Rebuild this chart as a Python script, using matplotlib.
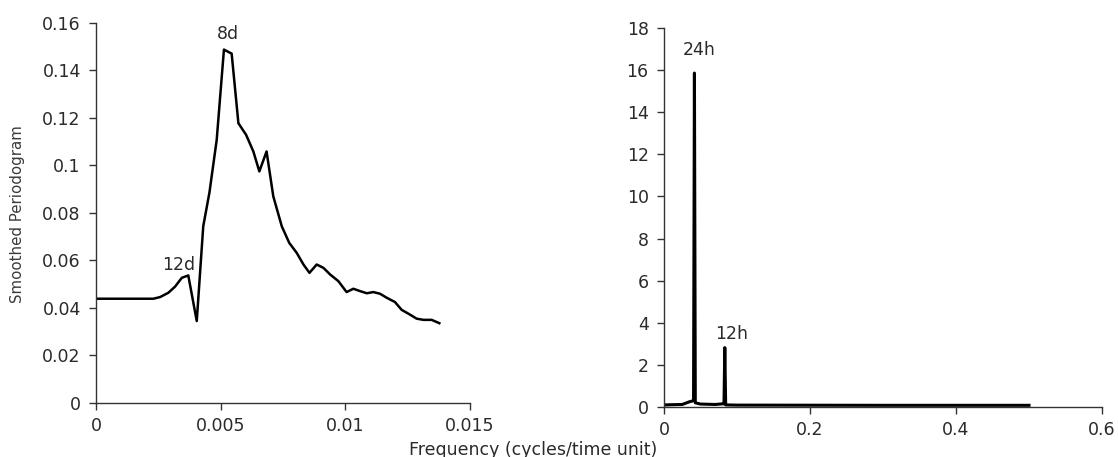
import matplotlib
matplotlib.use("Agg")
import matplotlib.pyplot as plt
from matplotlib.ticker import FuncFormatter

plt.rcParams['font.family'] = ['DejaVu Sans']

# Left panel: smoothed periodogram (low frequency)
left_freq = [0.0, 0.0023, 0.00257, 0.0029, 0.00317, 0.00344, 0.0037, 0.00404, 0.0043,
             0.00455, 0.00484, 0.00513, 0.00544, 0.00571, 0.00602, 0.00631, 0.00655,
             0.00684, 0.00711, 0.00745, 0.00775, 0.00805, 0.00832, 0.00856, 0.00885,
             0.00912, 0.00939, 0.00972, 0.01005, 0.01032, 0.01059, 0.01086, 0.01112,
             0.01139, 0.01166, 0.01199, 0.01226, 0.01253, 0.01286, 0.01313, 0.01346, 0.01377]
left_power = [0.0439, 0.0439, 0.0446, 0.0464, 0.049, 0.0527, 0.0537, 0.0345, 0.0744,
              0.0887, 0.1108, 0.1488, 0.1471, 0.1178, 0.1129, 0.1059, 0.0975,
              0.1059, 0.087, 0.0744, 0.0674, 0.0632, 0.0583, 0.0548, 0.0583,
              0.0569, 0.0541, 0.0513, 0.0467, 0.0481, 0.0471, 0.0462, 0.0467,
              0.046, 0.0443, 0.0425, 0.0392, 0.0376, 0.0355, 0.035, 0.035, 0.0336]
left_labels = ["12d", "8d"]
left_label_x = [0.0033, 0.00528]
left_label_y = [0.0583, 0.1555]

# Right panel: periodogram (full frequency range)
right_freq = [0.0, 0.025, 0.035, 0.0405, 0.0417, 0.0429, 0.05, 0.07, 0.08, 0.0822,
              0.0833, 0.0845, 0.1, 0.3, 0.5]
right_power = [0.1, 0.12, 0.25, 0.3, 15.86, 0.2, 0.14, 0.12, 0.15, 0.15,
               2.82, 0.1, 0.09, 0.08, 0.08]
right_labels = ["24h", "12h"]
right_label_x = [0.048, 0.0924]
right_label_y = [16.94, 3.49]

left_xticks = [0, 0.005, 0.01, 0.015]
left_yticks = [0, 0.02, 0.04, 0.06, 0.08, 0.1, 0.12, 0.14, 0.16]
right_xticks = [0, 0.2, 0.4, 0.6]
right_yticks = [0, 2, 4, 6, 8, 10, 12, 14, 16, 18]

fig = plt.figure(figsize=(11.18, 4.57), dpi=100)
ax1 = fig.add_axes([0.0859, 0.1182, 0.3345, 0.8315])
ax2 = fig.add_axes([0.5939, 0.1094, 0.3918, 0.8293])

fmt = FuncFormatter(lambda v, p: "%g" % v)
txtc = "#2a2a2a"

ax1.plot(left_freq, left_power, color="black", lw=1.8)
for t, x, y in zip(left_labels, left_label_x, left_label_y):
    ax1.text(x, y, t, ha="center", va="center", fontsize=12.5, color=txtc)
ax1.set_xlim(0, 0.015)
ax1.set_ylim(0, 0.16)
ax1.set_xticks(left_xticks)
ax1.set_yticks(left_yticks)

ax2.plot(right_freq, right_power, color="black", lw=2.2)
for t, x, y in zip(right_labels, right_label_x, right_label_y):
    ax2.text(x, y, t, ha="center", va="center", fontsize=12.5, color=txtc)
ax2.set_xlim(0, 0.6)
ax2.set_ylim(0, 18)
ax2.set_xticks(right_xticks)
ax2.set_yticks(right_yticks)

for ax in (ax1, ax2):
    ax.xaxis.set_major_formatter(fmt)
    ax.yaxis.set_major_formatter(fmt)
    for s in ("top", "right"):
        ax.spines[s].set_visible(False)
    for s in ("left", "bottom"):
        ax.spines[s].set_color("#333333")
        ax.spines[s].set_linewidth(1.0)
    ax.tick_params(direction="out", length=5, width=1, color="#333333",
                   labelsize=12.5, labelcolor=txtc)
    ax.tick_params(axis="y", pad=6)
    ax.tick_params(axis="x", pad=5)

fig.text(18 / 1118, 0.532, "Smoothed Periodogram", rotation=90, ha="center",
         va="center", fontsize=10.8, color="#3a3a3a")
fig.text(0.4767, 0.016, "Frequency (cycles/time unit)", ha="center", va="center",
         fontsize=12.5, color=txtc)

fig.savefig("out.png", dpi=100)
